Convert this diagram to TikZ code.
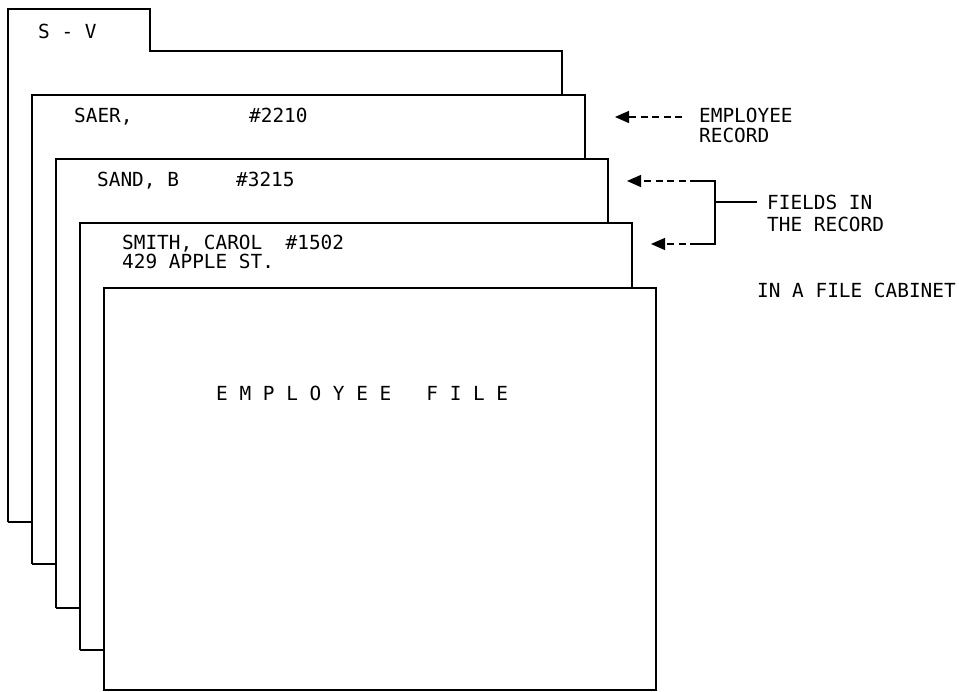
\documentclass[tikz,border=0pt]{standalone}
\usepackage{fontspec}
\newfontfamily\cardmono{DejaVu Sans Mono}
\usetikzlibrary{arrows.meta}
\begin{document}
\begin{tikzpicture}[x=1pt,y=-1pt,
  card/.style={line width=1.6pt, line join=miter},
  lbl/.style={anchor=base west, inner sep=0pt, font=\cardmono\fontsize{19.4}{22}\selectfont},
  dasharrow/.style={line width=1.4pt, dash pattern=on 7pt off 4.5pt, -{Triangle[length=14pt,width=12pt]}},
  brk/.style={line width=1.4pt}]
\useasboundingbox (0,0) rectangle (959,692);
% cards
\draw[card] (8,522) -- (8,9) -- (150,9) -- (150,51) -- (562,51) -- (562,95);
\draw[card] (8,522) -- (32,522);
\draw[card] (32,564) -- (32,95) -- (585,95) -- (585,159);
\draw[card] (32,564) -- (56,564);
\draw[card] (56,608) -- (56,159) -- (608,159) -- (608,223);
\draw[card] (56,608) -- (80,608);
\draw[card] (80,650) -- (80,223) -- (632,223) -- (632,288);
\draw[card] (80,650) -- (104,650);
\draw[card] (104,288) rectangle (656,690);
% card texts
\node[lbl] (sv) at (38,39) {S - V};
\node[lbl] (saer) at (74,123) {SAER,};
\node[lbl] (n2210) at (249,123) {\#2210};
\node[lbl] (sand) at (97,187) {SAND, B};
\node[lbl] (n3215) at (236,187) {\#3215};
\node[lbl] (smith) at (122,250) {SMITH, CAROL~~\#1502};
\node[lbl] (apple) at (122,269) {429 APPLE ST.};
\node[lbl] (efile) at (216,401) {E~M~P~L~O~Y~E~E~~~F~I~L~E};
% labels
\node[lbl] (emp1) at (699,123) {EMPLOYEE};
\node[lbl] (emp2) at (699,143) {RECORD};
\node[lbl] (fld1) at (767,210) {FIELDS IN};
\node[lbl] (fld2) at (767,232) {THE RECORD};
\node[lbl] (cab) at (757,298) {IN A FILE CABINET};
% connectors
\coordinate (a1s) at (682,117);
\coordinate (a1e) at (615,117);
\draw[dasharrow] (a1s) -- (a1e);
\coordinate (b1) at (697,181);
\coordinate (b1c) at (715,181);
\coordinate (b2) at (697,244);
\coordinate (b2c) at (715,244);
\coordinate (bm) at (715,202);
\coordinate (bt) at (757,202);
\coordinate (t1) at (627,181);
\coordinate (t2) at (651,244);
\draw[brk] (b1) -- (b1c) -- (b2c) -- (b2);
\draw[brk] (bm) -- (bt);
\draw[dasharrow] (b1) -- (t1);
\draw[dasharrow] (b2) -- (t2);
\end{tikzpicture}
\end{document}
